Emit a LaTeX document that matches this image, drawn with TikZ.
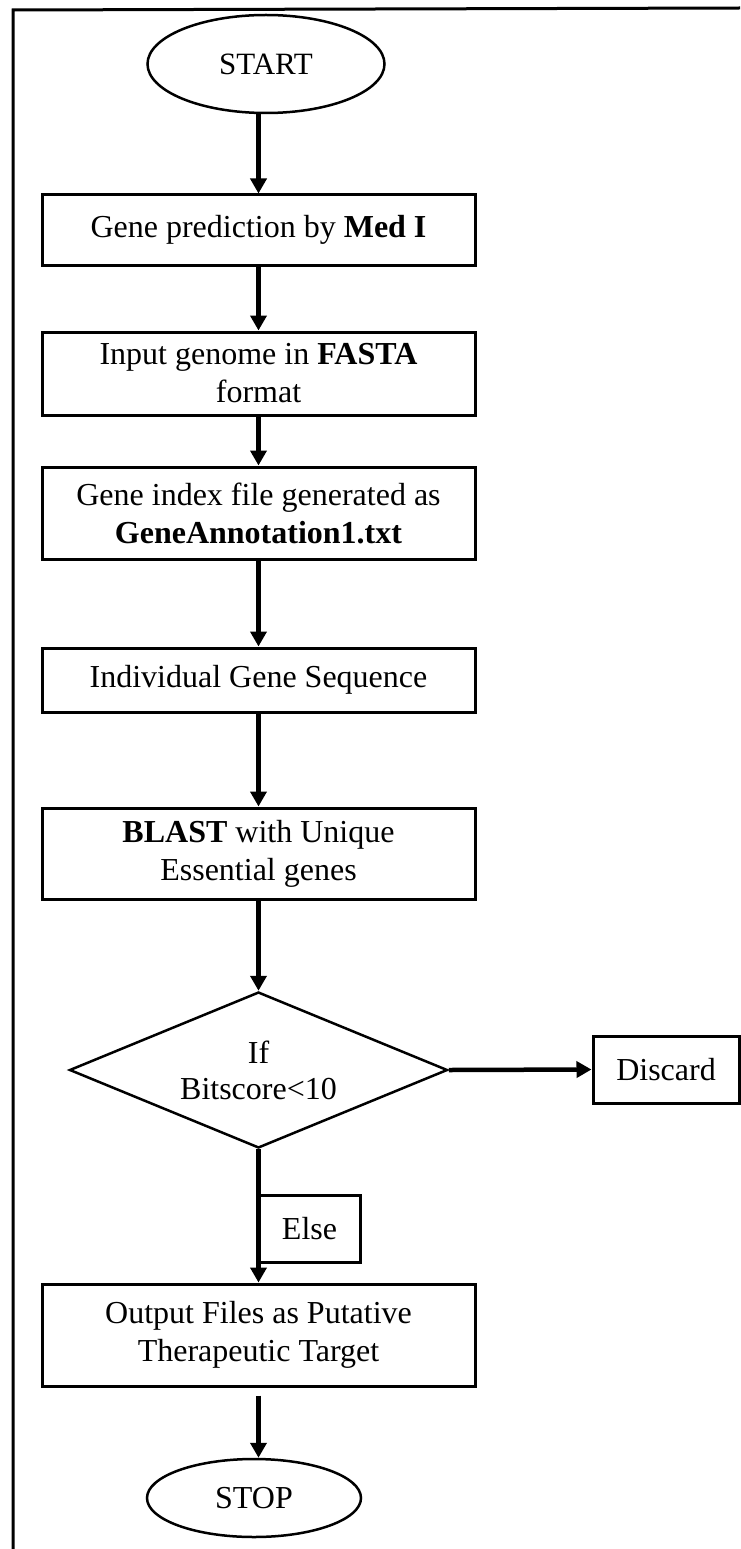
\documentclass[tikz,border=0pt]{standalone}
\usepackage{fontspec}
\setmainfont{Liberation Serif}
\usetikzlibrary{shapes,arrows.meta,positioning}

\begin{document}
\begin{tikzpicture}[
  x=1pt, y=1pt,
  stepbox/.style={rectangle, draw, line width=3pt, minimum width=433pt, inner sep=0pt, align=center, font=\fontsize{32}{38}\selectfont},
  term/.style={ellipse, draw, line width=2.5pt, inner sep=0pt, font=\fontsize{31}{36}\selectfont},
  decide/.style={diamond, draw, line width=2.5pt, inner sep=0pt, aspect=2.4, align=center, font=\fontsize{32}{36}\selectfont},
  arr/.style={-{Triangle[length=15pt,width=16pt]}, line width=4.5pt},
]
  \useasboundingbox (0,0) rectangle (740,-1549);
  \draw[line width=3pt] (13,-1549) -- (13,-10) -- (740,-8);

  \node[term, minimum width=237pt, minimum height=98pt] (start) at (266,-64) {START};
  \node[stepbox, minimum height=70pt]  (gp)    at (258.5,-230)   {Gene prediction by \textbf{Med I}};
  \node[stepbox, minimum height=83pt]  (inp)   at (258.5,-373.5) {Input genome in \textbf{FASTA}\\format};
  \node[stepbox, minimum height=92pt]  (idx)   at (258.5,-513)   {Gene index file generated as\\\textbf{GeneAnnotation1.txt}};
  \node[stepbox, minimum height=64pt]  (seq)   at (258.5,-680)   {Individual Gene Sequence};
  \node[stepbox, minimum height=91pt]  (blast) at (258.5,-853.5) {\textbf{BLAST} with Unique\\Essential genes};
  \node[decide, minimum width=378pt, minimum height=156pt] (bits) at (258.5,-1070) {If\\Bitscore<10};
  \node[stepbox, minimum width=146pt, minimum height=67pt] (discard) at (666,-1069.5) {Discard};
  \node[stepbox, minimum width=102pt, minimum height=67pt] (els) at (309.5,-1228.5) {Else};
  \node[stepbox, minimum height=102pt] (out)   at (258.5,-1335)  {Output Files as Putative\\Therapeutic Target};
  \node[term, minimum width=214pt, minimum height=78pt, font=\fontsize{32}{36}\selectfont] (stop) at (254,-1498) {STOP};

  \draw[arr] (gp.north |- start.south) -- (gp.north);
  \draw[arr] (gp.south) -- (inp.north);
  \draw[arr] (inp.south) -- (idx.north);
  \draw[arr] (idx.south) -- (seq.north);
  \draw[arr] (seq.south) -- (blast.north);
  \draw[arr] (blast.south) -- (bits.north);
  \draw[arr] (bits.east) -- (discard.west);
  \draw[arr] (bits.south) -- (out.north);
  \draw[arr, shorten <=8pt] (out.south) -- (stop.north -| out.south);
\end{tikzpicture}
\end{document}
